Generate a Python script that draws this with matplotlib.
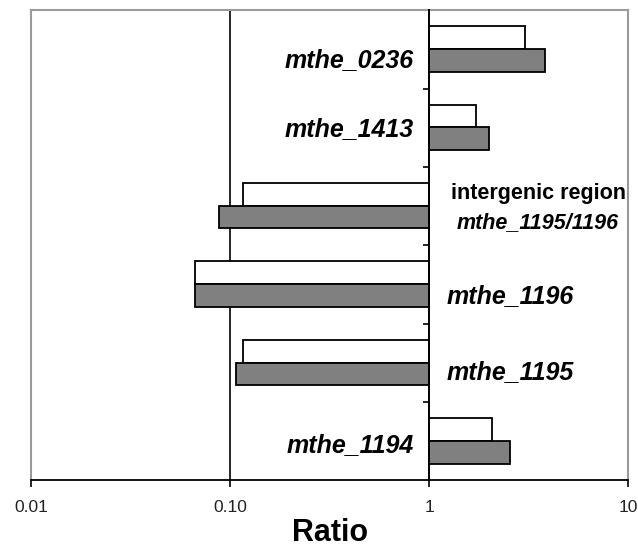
import matplotlib
matplotlib.use("Agg")
import matplotlib.pyplot as plt
import numpy as np

plt.rcParams["font.family"] = ["Liberation Sans", "DejaVu Sans"]

# genes from top to bottom, two ratios per gene (open / filled bars)
genes = ["mthe_0236", "mthe_1413", "intergenic", "mthe_1196", "mthe_1195", "mthe_1194"]
ratio_open = [3.03, 1.71, 0.116, 0.067, 0.116, 2.07]
ratio_filled = [3.81, 1.99, 0.088, 0.067, 0.107, 2.56]

tick_values = [0.01, 0.1, 1, 10]
tick_labels = ["0.01", "0.10", "1", "10"]

fig = plt.figure(figsize=(6.38, 5.47), dpi=100)
ax = fig.add_axes([0.0486, 0.1216, 0.9362, 0.8598])
ax.set_xscale("log")
ax.set_xlim(0.01, 10)
ax.set_ylim(len(genes), 0)

pos = np.arange(len(genes))
open_v = np.array(ratio_open)
filled_v = np.array(ratio_filled)
bar_h = 0.29
ax.barh(pos + 0.35, np.abs(open_v - 1), left=np.minimum(open_v, 1), height=bar_h,
        color="white", edgecolor="black", linewidth=1.3, zorder=3)
ax.barh(pos + 0.64, np.abs(filled_v - 1), left=np.minimum(filled_v, 1), height=bar_h,
        color="#808080", edgecolor="black", linewidth=1.3, zorder=3)

# reference line at 0.10
ax.axvline(0.1, color="black", linewidth=1.2, zorder=2)

# category axis sits at ratio = 1
ax.spines["left"].set_position(("data", 1))
ax.spines["left"].set_linewidth(1.4)
ax.spines["left"].set_zorder(4)
ax.set_yticks(np.arange(1, len(genes)))
ax.set_yticklabels([])
ax.tick_params(axis="y", direction="out", length=4, width=1.2)

# light grey frame on the other sides
for side in ("top", "right"):
    ax.spines[side].set_color("#9a9a9a")
    ax.spines[side].set_linewidth(1.5)
ax.axvline(0.01, color="#9a9a9a", linewidth=1.5, clip_on=False)
ax.spines["bottom"].set_linewidth(1.3)

ax.set_xticks(tick_values)
ax.set_xticklabels(tick_labels)
ax.xaxis.set_minor_locator(matplotlib.ticker.NullLocator())
ax.tick_params(axis="x", direction="out", length=5, width=1.2, pad=9,
               labelsize=12.5, labelcolor="#222222")
ax.set_xlabel("Ratio", fontsize=22, fontweight="bold", labelpad=2)

# gene names
label_style = dict(fontsize=18, fontstyle="italic", fontweight="bold", va="baseline")
ax.text(0.836, 0.73, genes[0], ha="right", **label_style)
ax.text(0.836, 1.60, genes[1], ha="right", **label_style)
ax.text(1.22, 3.73, genes[3], ha="left", **label_style)
ax.text(1.22, 4.70, genes[4], ha="left", **label_style)
ax.text(0.836, 5.64, genes[5], ha="right", **label_style)
ax.text(3.52, 2.41, "intergenic region", ha="center", va="baseline",
        fontsize=15.5, fontweight="bold")
ax.text(3.52, 2.78, "mthe_1195/1196", ha="center", va="baseline",
        fontsize=15.5, fontweight="bold", fontstyle="italic")

fig.savefig("out.png", dpi=100)
